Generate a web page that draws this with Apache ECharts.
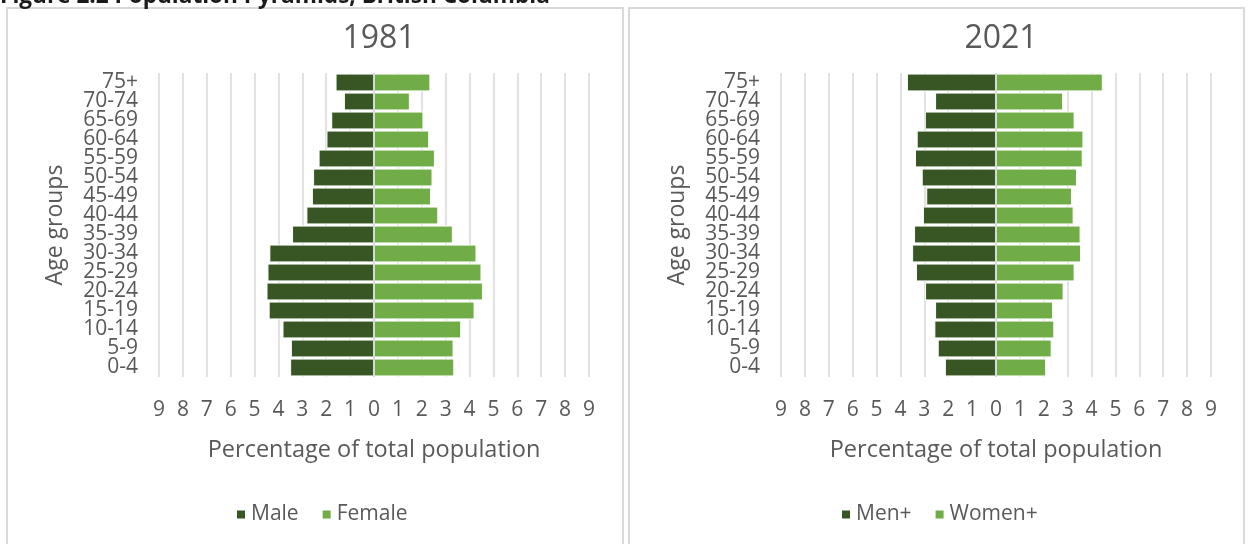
<!DOCTYPE html>
<html>
<head>
<meta charset="utf-8">
<title>Population Pyramids, British Columbia</title>
<script src="https://cdn.jsdelivr.net/npm/echarts/dist/echarts.min.js"></script>
<style>
    html, body { margin: 0; padding: 0; background: #fff; }
    #chart { width: 1248px; height: 544px; }
</style>
</head>
<body>
<div id="chart"></div>
<script>
// age groups, bottom to top
const ageGroups = ['0-4', '5-9', '10-14', '15-19', '20-24', '25-29', '30-34', '35-39',
    '40-44', '45-49', '50-54', '55-59', '60-64', '65-69', '70-74', '75+']

// percent of total population
const male1981   = [3.51, 3.48, 3.83, 4.41, 4.50, 4.46, 4.38, 3.43, 2.83, 2.60, 2.55, 2.32, 1.99, 1.79, 1.26, 1.61]
const female1981 = [3.36, 3.33, 3.65, 4.21, 4.56, 4.50, 4.29, 3.30, 2.69, 2.39, 2.45, 2.55, 2.31, 2.07, 1.50, 2.36]
const men2021    = [2.14, 2.44, 2.58, 2.55, 2.97, 3.35, 3.51, 3.43, 3.06, 2.92, 3.11, 3.39, 3.32, 2.98, 2.55, 3.73]
const women2021  = [2.10, 2.33, 2.44, 2.39, 2.83, 3.29, 3.56, 3.54, 3.25, 3.18, 3.39, 3.63, 3.66, 3.29, 2.81, 4.47]

const panelTitles = ['1981', '2021']
const legend1981 = ['Male', 'Female']
const legend2021 = ['Men+', 'Women+']

const font = '"Open Sans", sans-serif'
const grey = '#595959'
const dark = '#375623'
const light = '#70ad47'

let myecharts = echarts.init(document.getElementById('chart'))

// one pyramid per panel
const panels = [
    { title: panelTitles[0], names: legend1981, left: male1981, right: female1981, gridLeft: 159, legendLeft: 230 },
    { title: panelTitles[1], names: legend2021, left: men2021, right: women2021, gridLeft: 781, legendLeft: 835 }
]

let option = {
    textStyle: { fontFamily: font },
    animation: false,
    title: [],
    legend: [],
    grid: [],
    xAxis: [],
    yAxis: [],
    series: [],
    graphic: [
        {
            type: 'text', x: 0, y: -15, z: 10,
            style: { text: 'Figure 2.2 Population Pyramids, British Columbia', font: 'bold 22.6px ' + font, fill: '#1a1a1a', verticalAlign: 'top' }
        },
        {
            type: 'rect', shape: { x: 7, y: 8, width: 616, height: 560 },
            style: { fill: 'none', stroke: '#d9d9d9', lineWidth: 2 }
        },
        {
            type: 'rect', shape: { x: 629, y: 8, width: 615, height: 560 },
            style: { fill: 'none', stroke: '#d9d9d9', lineWidth: 2 }
        }
    ]
}

panels.forEach((p, i) => {
    const w = 430
    option.title.push({
        text: p.title,
        left: p.gridLeft + w / 2,
        top: 18,
        textAlign: 'center',
        textStyle: { fontFamily: font, fontSize: 32, fontWeight: 'normal', color: grey }
    })
    option.legend.push({
        data: p.names,
        left: p.legendLeft,
        top: 499,
        itemWidth: 10,
        itemHeight: 10,
        itemGap: 22,
        icon: 'rect',
        textStyle: { fontFamily: font, fontSize: 21, color: grey }
    })
    option.grid.push({ left: p.gridLeft, top: 73, width: w, height: 304 })
    option.xAxis.push({
        gridIndex: i,
        type: 'value',
        min: -9,
        max: 9,
        interval: 1,
        name: 'Percentage of total population',
        nameLocation: 'middle',
        nameGap: 61,
        nameTextStyle: { fontFamily: font, fontSize: 23.5, color: grey },
        axisLine: { show: false },
        axisTick: { show: false },
        axisLabel: { margin: 23, fontSize: 21, color: grey, formatter: v => Math.abs(v) },
        splitLine: { lineStyle: { color: '#d9d9d9', width: 1.5 } }
    })
    option.yAxis.push({
        gridIndex: i,
        type: 'category',
        data: ageGroups,
        name: 'Age groups',
        nameLocation: 'middle',
        nameRotate: 90,
        nameGap: 92,
        nameTextStyle: { fontFamily: font, fontSize: 23, color: grey },
        axisLine: { show: false },
        axisTick: { show: false },
        axisLabel: { interval: 0, margin: 21, fontSize: 21, color: grey }
    })
    option.series.push({
        name: p.names[0],
        type: 'bar',
        xAxisIndex: i,
        yAxisIndex: i,
        data: p.left.map(v => -v),
        barCategoryGap: '6%',
        barGap: '-100%',
        itemStyle: { color: dark, borderColor: '#fff', borderWidth: 1 }
    })
    option.series.push({
        name: p.names[1],
        type: 'bar',
        xAxisIndex: i,
        yAxisIndex: i,
        data: p.right,
        barCategoryGap: '6%',
        barGap: '-100%',
        itemStyle: { color: light, borderColor: '#fff', borderWidth: 1 },
        markLine: {
            silent: true,
            symbol: 'none',
            label: { show: false },
            lineStyle: { color: '#d9d9d9', width: 2, type: 'solid' },
            data: [{ xAxis: 0 }]
        }
    })
})

myecharts.setOption(option)
</script>
</body>
</html>
